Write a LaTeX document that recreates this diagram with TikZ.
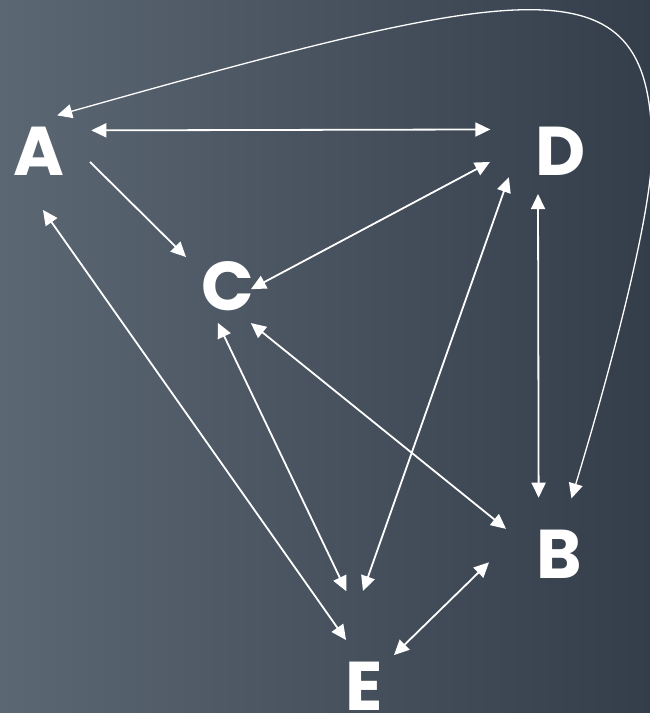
\documentclass[tikz,border=0pt]{standalone}
\usepackage{fontspec}
\setmainfont{Poppins}
\usetikzlibrary{arrows.meta}
\definecolor{bgleft}{HTML}{5B6773}
\definecolor{bgright}{HTML}{343E4A}
\begin{document}
\begin{tikzpicture}[x=1pt,y=1pt,
    vertex/.style={circle,inner sep=0pt,outer sep=0pt,minimum size=#1},
    letter/.style={text=white,inner sep=0pt,font=\fontsize{69}{69}\selectfont\bfseries},
    >={Triangle[length=15pt,width=14pt]}]
      \shade[left color=bgleft,right color=bgright] (0,0) rectangle (650,-713);
      \useasboundingbox (0,0) rectangle (650,-713);
      \node[vertex=80pt,label={[letter]center:A}] (A) at (39,-151) {};
      \node[vertex=92pt,label={[letter]center:D}] (D) at (561,-151) {};
      \node[vertex=56pt,label={[letter]center:C}] (C) at (228,-286) {};
      \node[vertex=100pt,label={[letter]center:B}] (B) at (559,-554) {};
      \node[vertex=80pt,label={[letter]center:E}] (E) at (364,-686) {};
      \coordinate (bend) at (652,-150);
      \begin{scope}[<->,draw=white,line width=1.8pt]
        \draw[shorten <=18pt,shorten >=30pt] (A.31.7) to (D.152.8);
        \draw[->,shorten <=15.5pt,shorten >=23.7pt] (A.0) to (C.154);
        \draw[shorten <=28.4pt,shorten >=-5.7pt] (D.177.1) to (C.359.4);
        \draw[shorten <=20.2pt,shorten >=66pt] (D.189.9) to (E.125);
        \draw[shorten <=3.2pt,shorten >=10.6pt] (D.240) to (B.114.8);
        \draw[shorten <=24.8pt,shorten >=9.7pt] (A.255.2) to (E.108);
        \draw[shorten <=16.3pt,shorten >=61.9pt] (C.232.7) to (E.77.7);
        \draw[shorten <=17.1pt,shorten >=8.9pt] (C.290.2) to (B.157.2);
        \draw[shorten <=30.3pt,shorten >=3.1pt] (B.165.8) to (E.46);
        \draw[line width=1.3pt,shorten >=7pt] (A.63.4)
          .. controls (540,21) and (652,40) .. (bend)
          .. controls (652,-210) and (615,-355) .. (B.78.9);
      \end{scope}
    \end{tikzpicture}
\end{document}
